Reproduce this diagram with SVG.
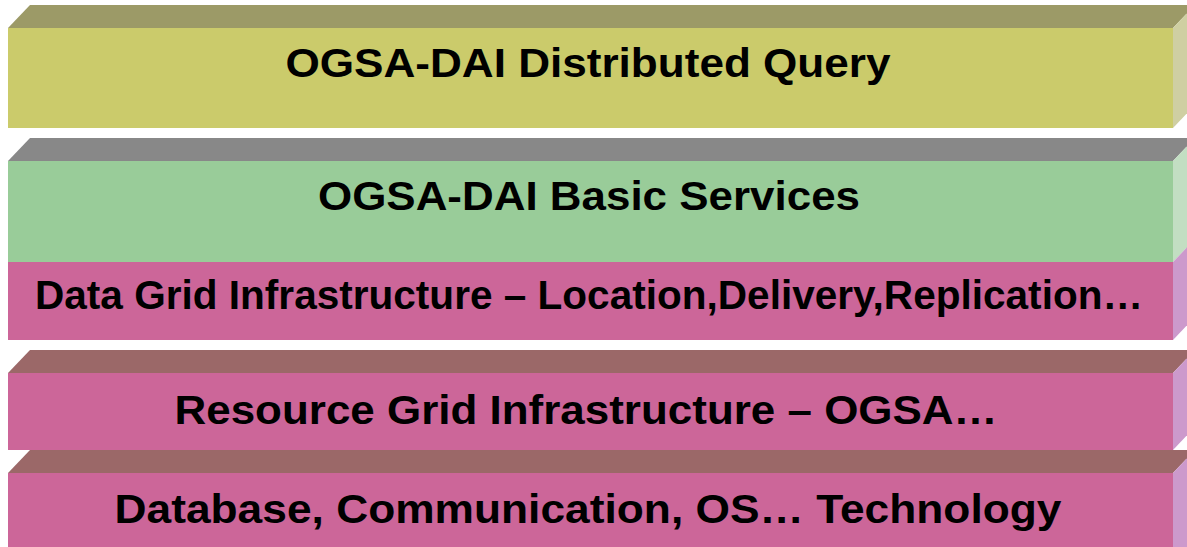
<svg xmlns="http://www.w3.org/2000/svg" width="1187" height="547" viewBox="0 0 1187 547">
<style>
.t{font-family:"Liberation Sans",Arial,sans-serif;font-weight:bold;font-size:40px;fill:#000;text-anchor:middle}
.y-f{fill:#CBCB6B}.y-t{fill:#9C9A67}.y-s{fill:#CFCFA2}
.g-f{fill:#99CC99}.g-t{fill:#888888}.g-s{fill:#C2DEC2}
.p-f{fill:#CC6699}.p-t{fill:#9B6868}.p-s{fill:#CC99CC}
</style>
<rect width="1187" height="547" fill="#FFFFFF"/>
<g id="layer-distributed-query">
<polygon class="y-t" points="8,28 30,5 1195,5 1173,28"/>
<rect class="y-f" x="8" y="28" width="1165" height="100"/>
<polygon class="y-s" points="1173,28 1195,5 1195,105 1173,128"/>
<text class="t" x="588" y="77" textLength="605" lengthAdjust="spacingAndGlyphs">OGSA-DAI Distributed Query</text>
</g>
<g id="layer-basic-services">
<polygon class="g-t" points="8,161 30,138 1195,138 1173,161"/>
<rect class="g-f" x="8" y="161" width="1165" height="101"/>
<polygon class="g-s" points="1173,161 1195,138 1195,239 1173,262"/>
<text class="t" x="589" y="210" textLength="542" lengthAdjust="spacingAndGlyphs">OGSA-DAI Basic Services</text>
</g>
<g id="layer-data-grid">
<rect class="p-f" x="8" y="262" width="1165" height="78"/>
<polygon class="p-s" points="1173,262 1195,239 1195,317 1173,340"/>
<text class="t" x="589" y="309" textLength="1108" lengthAdjust="spacingAndGlyphs">Data Grid Infrastructure – Location,Delivery,Replication…</text>
</g>
<g id="layer-database">
<polygon class="p-t" points="8,473 30,450 1195,450 1173,473"/>
<rect class="p-f" x="8" y="473" width="1165" height="80"/>
<polygon class="p-s" points="1173,473 1195,450 1195,550 1173,550"/>
<text class="t" x="588" y="523" textLength="947" lengthAdjust="spacingAndGlyphs">Database, Communication, OS… Technology</text>
</g>
<g id="layer-resource-grid">
<polygon class="p-t" points="8,373 30,350 1195,350 1173,373"/>
<rect class="p-f" x="8" y="373" width="1165" height="77"/>
<polygon class="p-s" points="1173,373 1195,350 1195,427 1173,450"/>
<text class="t" x="586" y="424" textLength="823" lengthAdjust="spacingAndGlyphs">Resource Grid Infrastructure – OGSA…</text>
</g>
<g id="connectors"/>
</svg>
